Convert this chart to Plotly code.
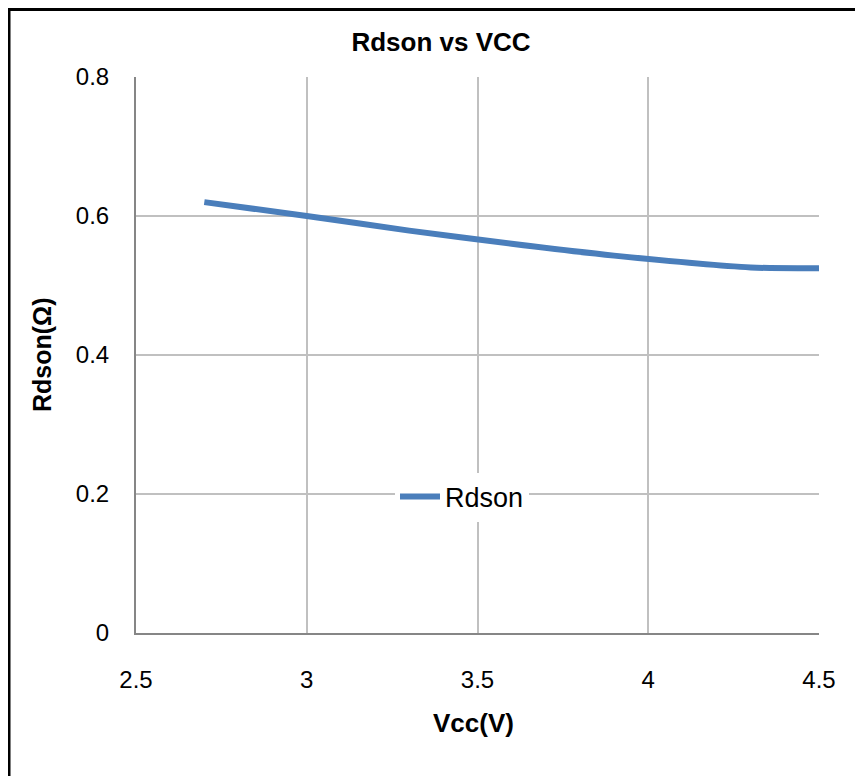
import plotly.graph_objects as go

vcc = [2.7, 3.0, 3.3, 3.6, 3.9, 4.3, 4.5]
rdson = [0.620, 0.600, 0.579, 0.560, 0.543, 0.526, 0.525]
x_ticks = [2.5, 3, 3.5, 4, 4.5]
y_ticks = [0, 0.2, 0.4, 0.6, 0.8]

# page has an 8px body margin, so the figure is laid out 8px smaller
W, H = 855, 768
L, R, T, B = 128, 44, 69, 143
pw, ph = W - L - R, H - T - B
OFF = 8

def px(x):
    return (x - OFF - L) / pw

def py(y):
    return (H - B - (y - OFF)) / ph

fig = go.Figure()
fig.add_trace(go.Scatter(
    x=vcc, y=rdson, mode="lines", name="Rdson",
    line=dict(color="#4a7ebb", width=6, shape="spline", smoothing=0.8),
))

tickfont = dict(family="Liberation Sans, Arial, sans-serif", size=24, color="black")
fig.update_layout(
    width=W, height=H,
    margin=dict(l=L, r=R, t=T, b=B),
    paper_bgcolor="white", plot_bgcolor="white",
    showlegend=True,
    legend=dict(x=px(395), y=py(497), xanchor="left", yanchor="middle",
                bgcolor="white", font=dict(family="Liberation Sans, Arial, sans-serif", size=27, color="black"),
                itemwidth=40, borderwidth=0),
    xaxis=dict(range=[2.5, 4.5], tickvals=x_ticks, ticktext=[str(v) for v in x_ticks],
               showgrid=True, gridcolor="#c0c0c0", gridwidth=2,
               showline=True, linecolor="#868686", linewidth=2, mirror=False,
               ticks="", ticklabelstandoff=24, tickfont=tickfont, zeroline=False),
    yaxis=dict(range=[0, 0.8], tickvals=y_ticks, ticktext=["0", "0.2", "0.4", "0.6", "0.8"],
               showgrid=True, gridcolor="#c0c0c0", gridwidth=2,
               showline=True, linecolor="#868686", linewidth=2,
               ticks="", ticklabelstandoff=20, tickfont=tickfont, zeroline=False),
    title=dict(text="<b>Rdson vs VCC</b>", x=(441 - OFF) / W, y=1 - (42 - OFF) / H,
               xref="container", yref="container", xanchor="center", yanchor="middle",
               font=dict(family="Liberation Sans, Arial, sans-serif", size=26, color="black")),
)

fig.add_annotation(text="<b>Vcc(V)</b>", xref="paper", yref="paper", x=px(473), y=py(723),
                   showarrow=False, xanchor="center", yanchor="middle",
                   font=dict(family="Liberation Sans, Arial, sans-serif", size=26, color="black"))
fig.add_annotation(text="<b>Rdson(Ω)</b>", xref="paper", yref="paper", x=px(42), y=py(355),
                   showarrow=False, xanchor="center", yanchor="middle", textangle=-90,
                   font=dict(family="Liberation Sans, Arial, sans-serif", size=25, color="black"))

# outer frame (left and top edges visible)
fig.add_shape(type="line", xref="paper", yref="paper", x0=px(9), x1=px(9), y0=py(9.5), y1=py(790),
              line=dict(color="black", width=3))
fig.add_shape(type="line", xref="paper", yref="paper", x0=px(7.5), x1=px(880), y0=py(9.5), y1=py(9.5),
              line=dict(color="black", width=3))

fig.write_html("out.html")
